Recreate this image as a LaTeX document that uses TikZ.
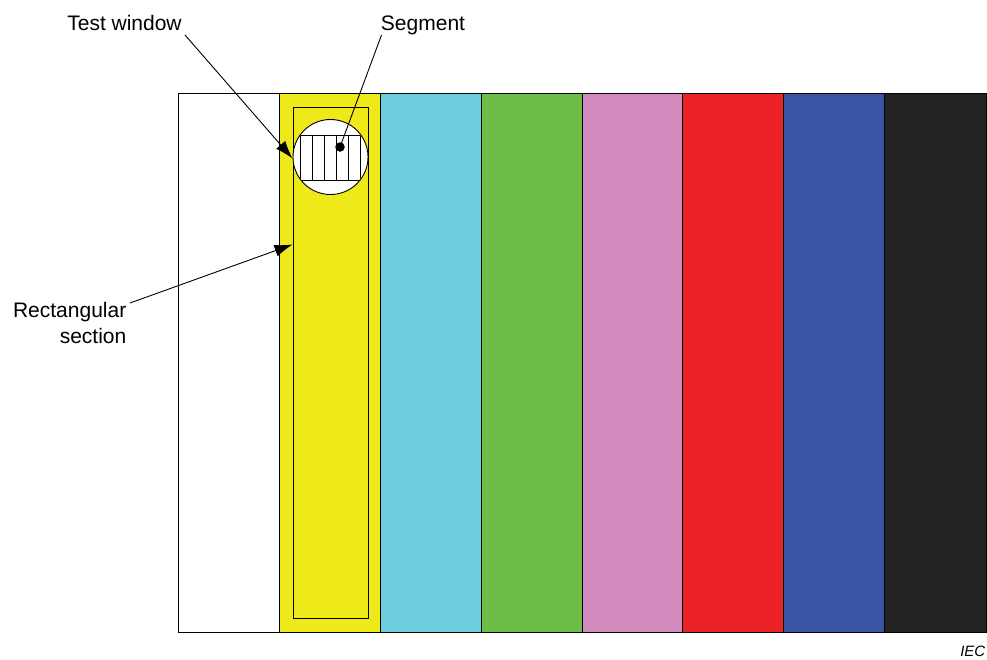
\documentclass[tikz,border=0pt]{standalone}
\usepackage{fontspec}
\setmainfont{Liberation Sans}
\usetikzlibrary{arrows.meta}
\definecolor{cyel}{HTML}{F0E91A}
\definecolor{ccyan}{HTML}{6CCDDC}
\definecolor{cgreen}{HTML}{6DBE47}
\definecolor{cpink}{HTML}{D48BBE}
\definecolor{cred}{HTML}{EC2227}
\definecolor{cblue}{HTML}{3A55A4}
\definecolor{cblack}{HTML}{222222}
\tikzset{
  stripe/.style={draw=black, line width=0.9pt},
  lbl/.style={font=\fontsize{21}{26}\selectfont, inner sep=0pt},
  pointer/.style={draw=black, line width=0.9pt, -{Latex[length=18pt,width=12pt]}},
  plainline/.style={draw=black, line width=0.9pt},
}
\begin{document}
\begin{tikzpicture}[x=1pt,y=-1pt]
\useasboundingbox (0,0) rectangle (987,659);
% stripes
\foreach \xa/\xb/\c in {178/279/white,279/380/cyel,380/481/ccyan,481/582/cgreen,582/682/cpink,682/783/cred,783/884/cblue,884/986/cblack}{
  \path[stripe, fill=\c] (\xa,93) rectangle (\xb,632);
}
% rectangular section
\node[draw=black, line width=0.9pt, minimum width=75pt, minimum height=511pt, inner sep=0pt] (rect) at (330.5,362.5) {};
% test window
\node[draw=black, fill=white, line width=0.9pt, circle, minimum size=75pt, inner sep=0pt] (win) at (330.5,157) {};
\begin{scope}
  \clip (330.5,157) circle (37pt);
  \draw[line width=0.9pt] (300,135) rectangle (360,180);
  \foreach \x in {312,324,336,348}{ \draw[line width=0.9pt] (\x,135) -- (\x,180); }
\end{scope}
\node[fill=black, circle, minimum size=9.5pt, inner sep=0pt] (seg) at (340,147) {};
% labels
\node[lbl, anchor=base] (tw) at (124.5,30) {Test window};
\node[lbl, anchor=base] (sg) at (423,30) {Segment};
\node[lbl, anchor=base east] (rs1) at (126.5,317) {Rectangular};
\node[lbl, anchor=base east] (rs2) at (126.5,343) {section};
\node[font=\fontsize{15}{18}\selectfont\itshape, anchor=base east, inner sep=0pt] (iec) at (985.5,656) {IEC};
% connectors
\coordinate (twS) at (185,35);
\coordinate (sgS) at (381.5,35);
\coordinate (rsS) at (130,303);
\path[pointer] (twS) -- (win.west |- 0,158.5) ;
\path[plainline] (sgS) -- (seg.center);
\path[pointer] (rsS) -- (rect.west |- 0,244.5);
\end{tikzpicture}
\end{document}
